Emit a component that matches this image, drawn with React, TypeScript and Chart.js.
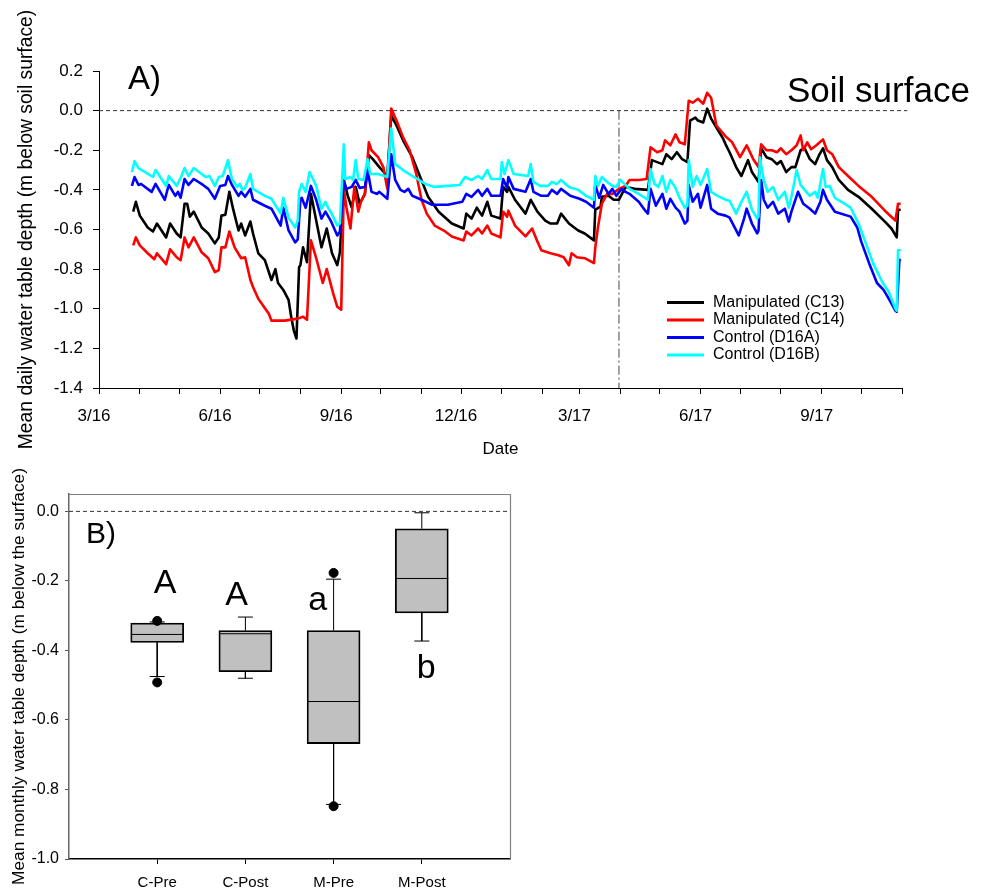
import React, { useEffect, useRef } from 'react';
import { Chart, registerables } from 'chart.js';

Chart.register(...registerables);

const FONT = '"Liberation Sans", Arial, Helvetica, sans-serif';

// ---------- Panel A : days since 1 March 2016 ----------
const monthTickDays = [0, 31, 61, 92, 122, 153, 184, 214, 245, 275, 306, 337, 365, 396, 426, 457, 487, 518, 549, 579, 610];
const monthTickLabels = ['3/16', '', '', '6/16', '', '', '9/16', '', '', '12/16', '', '', '3/17', '', '', '6/17', '', '', '9/17', '', ''];
const depthTicksA = [0.2, 0.0, -0.2, -0.4, -0.6, -0.8, -1.0, -1.2, -1.4];
const treatmentStartDay = 395;
const seriesNames = ['Manipulated (C13)', 'Manipulated (C14)', 'Control (D16A)', 'Control (D16B)'];
const seriesColors = ['#000000', '#ff0000', '#0000ff', '#00ffff'];

const c13: [number, number][] = [
  [26, -0.51], [28, -0.46], [31, -0.53], [37, -0.59], [41, -0.61], [44, -0.57], [49, -0.62], [51, -0.64], [54, -0.57], [59, -0.62],
  [62, -0.64], [65, -0.47], [67, -0.47], [69, -0.535], [72, -0.51], [78, -0.59], [83, -0.62], [88, -0.67], [91, -0.64], [93, -0.53],
  [96, -0.525], [99, -0.41], [102, -0.5], [106, -0.605], [108, -0.57], [111, -0.63], [115, -0.56], [117, -0.62], [121, -0.72], [126, -0.755],
  [131, -0.855], [134, -0.8], [136, -0.87], [140, -0.905], [144, -0.955], [146, -1.04], [148, -1.11], [150, -1.15], [152, -0.79], [153, -0.78],
  [155, -0.69], [158, -0.765], [161, -0.42], [165, -0.555], [169, -0.69], [173, -0.595], [177, -0.72], [181, -0.78], [183, -0.715], [186, -0.35],
  [189, -0.43], [192, -0.49], [195, -0.385], [198, -0.47], [202, -0.42], [205, -0.225], [208, -0.245], [213, -0.285], [219, -0.33], [222, -0.025],
  [226, -0.075], [231, -0.15], [238, -0.235], [244, -0.335], [250, -0.435], [258, -0.51], [268, -0.57], [277, -0.595], [279, -0.52], [283, -0.545],
  [287, -0.49], [291, -0.53], [295, -0.46], [298, -0.53], [305, -0.545], [307, -0.385], [310, -0.41], [311, -0.385], [316, -0.45], [324, -0.52],
  [328, -0.45], [333, -0.51], [339, -0.555], [343, -0.57], [348, -0.57], [351, -0.52], [357, -0.57], [364, -0.605], [369, -0.62], [376, -0.655],
  [377, -0.5], [381, -0.485], [382, -0.435], [387, -0.43], [391, -0.45], [395, -0.45], [400, -0.385], [407, -0.395], [417, -0.4], [420, -0.25],
  [424, -0.26], [428, -0.27], [431, -0.22], [435, -0.245], [439, -0.21], [443, -0.245], [447, -0.26], [449, -0.05], [453, -0.035], [455, -0.05],
  [459, -0.06], [462, 0.01], [465, -0.04], [469, -0.085], [474, -0.14], [476, -0.17], [479, -0.21], [484, -0.285], [488, -0.33], [493, -0.25],
  [496, -0.31], [501, -0.36], [503, -0.19], [507, -0.235], [511, -0.245], [515, -0.27], [518, -0.255], [522, -0.31], [526, -0.285], [529, -0.285],
  [533, -0.2], [536, -0.19], [540, -0.245], [544, -0.27], [547, -0.225], [550, -0.19], [553, -0.25], [557, -0.285], [562, -0.35], [569, -0.4],
  [577, -0.435], [587, -0.495], [597, -0.56], [602, -0.595], [606, -0.64], [607, -0.5], [609, -0.5],
];

const c14: [number, number][] = [
  [26, -0.68], [28, -0.64], [31, -0.68], [37, -0.72], [42, -0.75], [44, -0.72], [51, -0.775], [54, -0.7], [59, -0.74], [62, -0.755],
  [65, -0.64], [68, -0.69], [72, -0.64], [78, -0.715], [83, -0.745], [88, -0.815], [91, -0.805], [93, -0.69], [96, -0.69], [99, -0.61],
  [103, -0.69], [108, -0.745], [111, -0.74], [115, -0.855], [117, -0.89], [121, -0.95], [129, -1.025], [131, -1.06], [141, -1.06], [146, -1.055],
  [151, -1.05], [155, -1.04], [158, -1.055], [161, -0.655], [165, -0.745], [170, -0.87], [173, -0.8], [178, -0.925], [181, -0.99], [184, -1.005],
  [186, -0.395], [188, -0.49], [191, -0.595], [194, -0.385], [197, -0.51], [199, -0.46], [202, -0.42], [205, -0.16], [207, -0.2], [212, -0.235],
  [216, -0.285], [219, -0.395], [222, 0.01], [226, -0.05], [231, -0.135], [236, -0.2], [241, -0.32], [245, -0.45], [249, -0.52], [255, -0.58],
  [263, -0.61], [268, -0.635], [277, -0.655], [279, -0.61], [283, -0.63], [288, -0.595], [291, -0.62], [295, -0.58], [298, -0.62], [305, -0.64],
  [307, -0.51], [310, -0.535], [311, -0.505], [316, -0.58], [324, -0.635], [329, -0.595], [333, -0.66], [336, -0.705], [343, -0.72], [349, -0.73],
  [353, -0.74], [357, -0.78], [359, -0.72], [363, -0.74], [369, -0.745], [376, -0.77], [377, -0.69], [379, -0.59], [382, -0.47], [386, -0.42],
  [390, -0.42], [395, -0.395], [400, -0.38], [403, -0.35], [410, -0.35], [416, -0.345], [419, -0.185], [424, -0.21], [428, -0.2], [430, -0.15],
  [434, -0.175], [438, -0.12], [441, -0.16], [445, -0.17], [448, 0.05], [451, 0.04], [455, 0.06], [459, 0.035], [462, 0.09], [465, 0.065],
  [469, -0.075], [476, -0.13], [481, -0.16], [487, -0.235], [492, -0.175], [497, -0.245], [501, -0.285], [503, -0.17], [507, -0.2], [511, -0.2],
  [515, -0.21], [518, -0.19], [522, -0.22], [526, -0.2], [530, -0.175], [533, -0.125], [535, -0.2], [538, -0.16], [541, -0.195], [545, -0.175],
  [550, -0.145], [553, -0.2], [557, -0.22], [562, -0.285], [569, -0.33], [577, -0.38], [587, -0.435], [597, -0.505], [605, -0.555], [607, -0.47],
  [609, -0.47],
];

const d16a: [number, number][] = [
  [25, -0.38], [27, -0.335], [30, -0.375], [32, -0.37], [40, -0.41], [43, -0.37], [50, -0.45], [53, -0.375], [58, -0.43], [60, -0.41],
  [62, -0.44], [65, -0.345], [68, -0.375], [72, -0.345], [79, -0.375], [83, -0.395], [88, -0.445], [92, -0.38], [96, -0.375], [98, -0.33],
  [101, -0.375], [106, -0.43], [108, -0.41], [111, -0.435], [115, -0.395], [117, -0.45], [126, -0.48], [131, -0.495], [138, -0.58], [140, -0.49],
  [144, -0.605], [149, -0.665], [151, -0.65], [153, -0.45], [154, -0.44], [157, -0.49], [161, -0.38], [165, -0.45], [169, -0.545], [172, -0.51],
  [176, -0.555], [181, -0.63], [183, -0.61], [186, -0.36], [188, -0.395], [192, -0.385], [195, -0.35], [198, -0.39], [202, -0.385], [204, -0.3],
  [207, -0.41], [211, -0.42], [213, -0.41], [219, -0.445], [222, -0.22], [225, -0.35], [229, -0.4], [232, -0.41], [235, -0.395], [238, -0.43],
  [245, -0.45], [253, -0.475], [265, -0.475], [276, -0.46], [279, -0.42], [283, -0.435], [288, -0.4], [291, -0.43], [295, -0.395], [298, -0.43],
  [305, -0.43], [307, -0.345], [310, -0.39], [311, -0.335], [315, -0.395], [324, -0.41], [328, -0.345], [330, -0.41], [336, -0.43], [341, -0.43],
  [344, -0.4], [348, -0.42], [351, -0.395], [358, -0.43], [365, -0.445], [370, -0.46], [376, -0.49], [377, -0.375], [380, -0.44], [383, -0.375],
  [387, -0.42], [390, -0.395], [393, -0.43], [397, -0.395], [400, -0.41], [403, -0.42], [410, -0.46], [415, -0.505], [417, -0.52], [419, -0.395],
  [423, -0.48], [428, -0.42], [431, -0.495], [434, -0.445], [438, -0.49], [441, -0.51], [445, -0.57], [447, -0.555], [448, -0.375], [451, -0.46],
  [455, -0.42], [457, -0.49], [462, -0.375], [465, -0.495], [470, -0.52], [476, -0.53], [479, -0.54], [486, -0.63], [490, -0.545], [492, -0.495],
  [496, -0.57], [500, -0.62], [501, -0.605], [503, -0.35], [505, -0.45], [508, -0.49], [512, -0.46], [516, -0.52], [521, -0.495], [524, -0.56],
  [526, -0.51], [531, -0.41], [535, -0.47], [540, -0.495], [544, -0.52], [548, -0.46], [550, -0.4], [553, -0.45], [559, -0.51], [571, -0.535],
  [576, -0.59], [579, -0.66], [585, -0.77], [591, -0.87], [596, -0.905], [600, -0.95], [605, -1.01], [606, -1.015], [608, -0.755], [609, -0.75],
];

const d16b: [number, number][] = [
  [25, -0.31], [27, -0.255], [30, -0.29], [41, -0.335], [43, -0.3], [51, -0.38], [53, -0.33], [59, -0.38], [62, -0.34], [65, -0.29],
  [68, -0.33], [72, -0.29], [81, -0.335], [84, -0.33], [88, -0.38], [91, -0.335], [94, -0.33], [98, -0.25], [101, -0.345], [105, -0.385],
  [107, -0.37], [109, -0.4], [111, -0.39], [115, -0.32], [117, -0.395], [126, -0.43], [131, -0.445], [138, -0.52], [140, -0.44], [144, -0.54],
  [149, -0.59], [151, -0.555], [152, -0.41], [154, -0.37], [157, -0.41], [160, -0.31], [165, -0.38], [169, -0.495], [172, -0.46], [174, -0.49],
  [176, -0.51], [181, -0.58], [183, -0.57], [186, -0.17], [187, -0.345], [191, -0.335], [193, -0.35], [195, -0.25], [197, -0.345], [201, -0.35],
  [204, -0.245], [206, -0.32], [212, -0.32], [219, -0.335], [222, -0.09], [225, -0.27], [231, -0.3], [238, -0.33], [248, -0.37], [255, -0.385],
  [265, -0.38], [274, -0.375], [278, -0.335], [283, -0.35], [288, -0.33], [291, -0.345], [295, -0.3], [298, -0.345], [305, -0.345], [306, -0.26],
  [308, -0.32], [311, -0.25], [315, -0.32], [326, -0.33], [328, -0.27], [330, -0.36], [335, -0.38], [341, -0.38], [344, -0.36], [348, -0.37],
  [351, -0.35], [357, -0.385], [364, -0.4], [370, -0.43], [376, -0.45], [377, -0.33], [379, -0.38], [382, -0.335], [386, -0.36], [390, -0.38],
  [393, -0.385], [396, -0.35], [400, -0.375], [403, -0.395], [410, -0.42], [417, -0.45], [419, -0.295], [422, -0.37], [425, -0.385], [428, -0.33],
  [431, -0.41], [434, -0.35], [438, -0.39], [441, -0.44], [445, -0.49], [447, -0.48], [448, -0.25], [451, -0.385], [454, -0.33], [457, -0.375],
  [462, -0.295], [465, -0.41], [470, -0.43], [476, -0.45], [479, -0.455], [484, -0.52], [488, -0.46], [492, -0.41], [496, -0.5], [500, -0.545],
  [501, -0.535], [502, -0.235], [505, -0.35], [508, -0.41], [512, -0.385], [516, -0.45], [521, -0.41], [524, -0.49], [526, -0.435], [530, -0.3],
  [533, -0.375], [536, -0.4], [540, -0.43], [544, -0.41], [546, -0.44], [550, -0.295], [552, -0.385], [555, -0.38], [559, -0.44], [564, -0.46],
  [571, -0.49], [577, -0.57], [582, -0.66], [588, -0.77], [595, -0.865], [600, -0.915], [605, -1.0], [606, -1.01], [607, -0.705], [609, -0.705],
];

const seriesData = [c13, c14, d16a, d16b];

// ---------- Panel B : box plots ----------
const boxCategories = ['C-Pre', 'C-Post', 'M-Pre', 'M-Post'];
const boxLowerWhisker = [-0.475, -0.48, -0.843, -0.373];
const boxQ1 = [-0.377, -0.461, -0.668, -0.292];
const boxMedian = [-0.354, -0.352, -0.547, -0.193];
const boxQ3 = [-0.321, -0.343, -0.343, -0.05];
const boxUpperWhisker = [-0.318, -0.304, -0.195, -0.004];
const outlierCategory = [1, 1, 3, 3];
const outlierValue = [-0.315, -0.492, -0.177, -0.848];
const groupLetters = ['A', 'A', 'a', 'b'];
const letterX = [1.09, 1.9, 2.82, 4.05];
const letterY = [-0.236, -0.27, -0.284, -0.48];
const depthTicksB = [0.0, -0.2, -0.4, -0.6, -0.8, -1.0];

const fmt1 = (v: number) => {
  const n = Number(v);
  return (Math.abs(n) < 1e-9 ? 0 : n).toFixed(1);
};

function buildConfigA(): any {
  const datasets: any[] = seriesData.map((s, i) => ({
    type: 'line',
    label: seriesNames[i],
    data: s.map(([d, v]) => ({ x: d, y: v })),
    borderColor: seriesColors[i],
    borderWidth: 2.6,
    pointRadius: 0,
    tension: 0,
    borderJoinStyle: 'round',
    order: 4 - i,
  }));
  datasets.push({
    type: 'line',
    label: 'soil surface',
    data: [{ x: 0, y: 0 }, { x: 614, y: 0 }],
    borderColor: '#333',
    borderWidth: 1,
    borderDash: [4, 3],
    pointRadius: 0,
    clip: false,
    order: 10,
  });
  datasets.push({
    type: 'line',
    label: 'treatment',
    data: [{ x: treatmentStartDay, y: 0 }, { x: treatmentStartDay, y: -1.4 }],
    borderColor: '#444',
    borderWidth: 1,
    borderDash: [9, 3, 2, 3],
    pointRadius: 0,
    order: 10,
  });

  const annotA = {
    id: 'annotA',
    afterDatasetsDraw(chart: any) {
      const ctx = chart.ctx;
      const { left, top } = chart.chartArea;
      ctx.save();
      ctx.fillStyle = '#000';
      ctx.textAlign = 'left';
      ctx.textBaseline = 'alphabetic';
      ctx.font = `33px ${FONT}`;
      ctx.fillText('A)', left + 29, top + 18);
      ctx.font = `35px ${FONT}`;
      ctx.fillText('Soil surface', left + 688, top + 31);
      ctx.font = `16px ${FONT}`;
      ctx.textBaseline = 'middle';
      seriesNames.forEach((name, i) => {
        const y = top + 231.5 + i * 17.5;
        ctx.strokeStyle = seriesColors[i];
        ctx.lineWidth = 3;
        ctx.beginPath();
        ctx.moveTo(left + 568, y);
        ctx.lineTo(left + 605, y);
        ctx.stroke();
        ctx.fillText(name, left + 614, y);
      });
      ctx.restore();
    },
  };

  return {
    type: 'line',
    data: { datasets },
    plugins: [annotA],
    options: {
      responsive: false,
      animation: false,
      devicePixelRatio: 1,
      layout: { padding: { top: 71, right: 86, left: 0, bottom: 0 } },
      plugins: { legend: { display: false }, tooltip: { enabled: false } },
      scales: {
        x: {
          type: 'linear',
          min: 0,
          max: 610,
          afterBuildTicks: (s: any) => {
            s.ticks = monthTickDays.map((v) => ({ value: v }));
          },
          afterFit: (s: any) => {
            s.height = 82;
          },
          ticks: {
            autoSkip: false,
            maxRotation: 0,
            padding: 12,
            labelOffset: -5,
            color: '#000',
            font: { family: FONT, size: 17 },
            callback: (_v: any, i: number) => monthTickLabels[i],
          },
          grid: { drawOnChartArea: false, drawTicks: true, tickLength: 6, color: '#000' },
          border: { display: true, color: '#000', width: 1 },
          title: {
            display: true,
            text: 'Date',
            color: '#000',
            font: { family: FONT, size: 17 },
            padding: { top: 0, bottom: 10 },
          },
        },
        y: {
          type: 'linear',
          min: -1.4,
          max: 0.2,
          afterBuildTicks: (s: any) => {
            s.ticks = depthTicksA.map((v) => ({ value: v }));
          },
          afterFit: (s: any) => {
            s.width = 99;
          },
          ticks: {
            padding: 10,
            color: '#000',
            font: { family: FONT, size: 17 },
            callback: (v: any) => fmt1(v),
          },
          grid: { drawOnChartArea: false, drawTicks: true, tickLength: 6, color: '#000' },
          border: { display: true, color: '#000', width: 1 },
          title: {
            display: true,
            text: 'Mean daily water table depth (m below soil surface)',
            color: '#000',
            font: { family: FONT, size: 19.3 },
            padding: { top: 15, bottom: 0 },
          },
        },
      },
    },
  };
}

function buildConfigB(): any {
  const halfBox = 0.3;
  const halfCap = 0.085;
  const medianSeg: any[] = [];
  const whiskerSeg: any[] = [];
  boxCategories.forEach((_c, i) => {
    const x = i + 1;
    medianSeg.push({ x: x - halfBox, y: boxMedian[i] }, { x: x + halfBox, y: boxMedian[i] }, { x: x + halfBox, y: null });
    whiskerSeg.push(
      { x, y: boxQ3[i] }, { x, y: boxUpperWhisker[i] }, { x, y: null },
      { x: x - halfCap, y: boxUpperWhisker[i] }, { x: x + halfCap, y: boxUpperWhisker[i] }, { x: x + halfCap, y: null },
      { x, y: boxQ1[i] }, { x, y: boxLowerWhisker[i] }, { x, y: null },
      { x: x - halfCap, y: boxLowerWhisker[i] }, { x: x + halfCap, y: boxLowerWhisker[i] }, { x: x + halfCap, y: null },
    );
  });

  const datasets: any[] = [
    {
      type: 'line',
      label: 'whiskers',
      data: whiskerSeg,
      borderColor: '#000',
      borderWidth: 1,
      pointRadius: 0,
      spanGaps: false,
      order: 6,
    },
    {
      type: 'bar',
      label: 'boxes',
      data: boxCategories.map((_c, i) => ({ x: i + 1, y: [boxQ1[i], boxQ3[i]] })),
      backgroundColor: '#c0c0c0',
      borderColor: '#000',
      borderWidth: 1.8,
      borderSkipped: false,
      barThickness: 53,
      order: 5,
    },
    {
      type: 'line',
      label: 'medians',
      data: medianSeg,
      borderColor: '#000',
      borderWidth: 1,
      pointRadius: 0,
      spanGaps: false,
      order: 3,
    },
    {
      type: 'line',
      label: 'outliers',
      data: outlierCategory.map((c, i) => ({ x: c, y: outlierValue[i] })),
      showLine: false,
      pointRadius: 4.5,
      pointBackgroundColor: '#000',
      pointBorderColor: '#000',
      order: 1,
    },
  ];

  const annotB = {
    id: 'annotB',
    beforeDatasetsDraw(chart: any) {
      const ctx = chart.ctx;
      const { left, right } = chart.chartArea;
      const y0 = chart.scales.y.getPixelForValue(0);
      ctx.save();
      ctx.strokeStyle = '#333';
      ctx.lineWidth = 1;
      ctx.setLineDash([4, 3]);
      ctx.beginPath();
      ctx.moveTo(left, y0);
      ctx.lineTo(right, y0);
      ctx.stroke();
      ctx.restore();
    },
    afterDraw(chart: any) {
      const ctx = chart.ctx;
      const { left, right, top, bottom } = chart.chartArea;
      ctx.save();
      ctx.strokeStyle = '#808080';
      ctx.lineWidth = 1.2;
      ctx.beginPath();
      ctx.moveTo(left, top + 0.5);
      ctx.lineTo(right + 0.5, top + 0.5);
      ctx.lineTo(right + 0.5, bottom);
      ctx.stroke();
      ctx.fillStyle = '#000';
      ctx.textBaseline = 'alphabetic';
      ctx.textAlign = 'left';
      ctx.font = `30px ${FONT}`;
      ctx.fillText('B)', left + 17, top + 49);
      ctx.textAlign = 'center';
      ctx.font = `34px ${FONT}`;
      groupLetters.forEach((t, i) => {
        ctx.fillText(t, chart.scales.x.getPixelForValue(letterX[i]), chart.scales.y.getPixelForValue(letterY[i]));
      });
      ctx.restore();
    },
  };

  return {
    type: 'bar',
    data: { datasets },
    plugins: [annotB],
    options: {
      responsive: false,
      animation: false,
      devicePixelRatio: 1,
      layout: { padding: { top: 34, right: 478, left: 0, bottom: 0 } },
      plugins: { legend: { display: false }, tooltip: { enabled: false } },
      scales: {
        x: {
          type: 'linear',
          min: 0,
          max: 5,
          offset: false,
          afterBuildTicks: (s: any) => {
            s.ticks = boxCategories.map((_c, i) => ({ value: i + 1 }));
          },
          afterFit: (s: any) => {
            s.height = 33;
          },
          ticks: {
            autoSkip: false,
            maxRotation: 0,
            padding: 10,
            color: '#000',
            font: { family: FONT, size: 15 },
            callback: (_v: any, i: number) => boxCategories[i],
          },
          grid: { drawOnChartArea: false, drawTicks: true, tickLength: 5, color: '#000', offset: false },
          border: { display: true, color: '#000', width: 1.5 },
        },
        y: {
          type: 'linear',
          min: -1.0,
          max: 0.05,
          afterBuildTicks: (s: any) => {
            s.ticks = depthTicksB.map((v) => ({ value: v }));
          },
          afterFit: (s: any) => {
            s.width = 69;
          },
          ticks: {
            padding: 6,
            color: '#000',
            font: { family: FONT, size: 16 },
            callback: (v: any) => fmt1(v),
          },
          grid: { drawOnChartArea: false, drawTicks: true, tickLength: 4, color: '#555' },
          border: { display: true, color: '#666', width: 1.5 },
          title: {
            display: true,
            text: 'Mean monthly water table depth (m below the surface)',
            color: '#000',
            font: { family: FONT, size: 17.3 },
            padding: { top: 9, bottom: 0 },
          },
        },
      },
    },
  };
}

export default function App() {
  const refA = useRef<HTMLCanvasElement>(null);
  const refB = useRef<HTMLCanvasElement>(null);

  useEffect(() => {
    const a = new Chart(refA.current as HTMLCanvasElement, buildConfigA());
    const b = new Chart(refB.current as HTMLCanvasElement, buildConfigB());
    return () => {
      a.destroy();
      b.destroy();
    };
  }, []);

  return (
    <div style={{ position: 'absolute', left: 0, top: 0, width: 988, height: 892, background: '#fff' }}>
      <canvas
        ref={refA}
        width={988}
        height={470}
        style={{ position: 'absolute', left: 0, top: 0, width: 988, height: 470 }}
      />
      <canvas
        ref={refB}
        width={988}
        height={432}
        style={{ position: 'absolute', left: 0, top: 460, width: 988, height: 432 }}
      />
    </div>
  );
}
